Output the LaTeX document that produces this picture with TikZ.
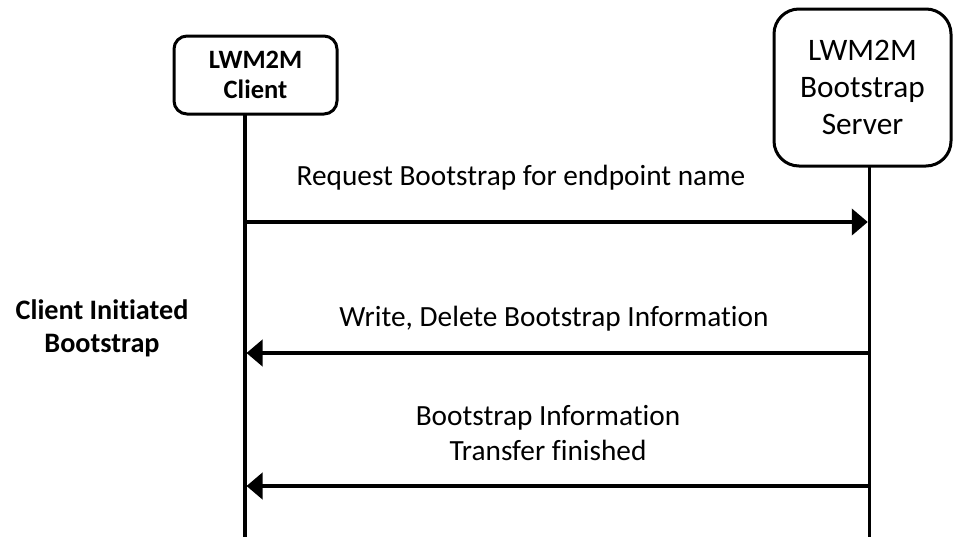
\documentclass[tikz,border=0pt]{standalone}
\usepackage{fontspec}
\setmainfont[Ligatures={NoCommon}]{Carlito}
\usetikzlibrary{arrows.meta}
\begin{document}
\begin{tikzpicture}[x=1pt,y=-1pt,
  lifebox/.style={draw, line width=3pt, fill=white, inner sep=0pt, align=center},
  lifeline/.style={line width=3.2pt},
  msg/.style={line width=4pt, -{Triangle[length=16pt,width=26pt]}},
  msglabel/.style={inner sep=0pt, align=center, font=\fontsize{29.3}{35}\selectfont}
]
\useasboundingbox (0,0) rectangle (953,536);
% participants
\node[lifebox, rounded corners=13pt, minimum width=163pt, minimum height=78pt,
      font=\bfseries\fontsize{26.5}{30}\selectfont] (client) at (255.5,75) {LWM2M\\Client};
\node[lifebox, rounded corners=25pt, minimum width=177pt, minimum height=157pt,
      font=\fontsize{31.3}{37}\selectfont] (server) at (862.5,87.5) {LWM2M\\Bootstrap\\Server};
% lifeline ends
\coordinate (ctop) at (245,115);
\coordinate (cbot) at (245,537);
\coordinate (stop) at (869.3,167);
\coordinate (sbot) at (869.3,537);
\draw[lifeline] (ctop) -- (cbot);
\draw[lifeline] (stop) -- (sbot);
% message ends
\coordinate (m1s) at (245,222);
\coordinate (m1e) at (867.8,222);
\coordinate (m2s) at (869.3,353);
\coordinate (m2e) at (246.5,353);
\coordinate (m3s) at (869.3,486);
\coordinate (m3e) at (246.5,486);
\draw[msg] (m1s) -- (m1e);
\draw[msg] (m2s) -- (m2e);
\draw[msg] (m3s) -- (m3e);
% labels
\node[msglabel, anchor=base] (l1) at (521,185) {Request Bootstrap for endpoint name};
\node[msglabel, anchor=base] (l2) at (554,326) {Write, Delete Bootstrap Information};
\node[msglabel] (l3) at (548,433) {Bootstrap Information\\Transfer finished};
\node[inner sep=0pt, align=center, font=\bfseries\fontsize{28.2}{33}\selectfont] (phase) at (102,328.5) {Client Initiated\\Bootstrap};
\end{tikzpicture}
\end{document}
